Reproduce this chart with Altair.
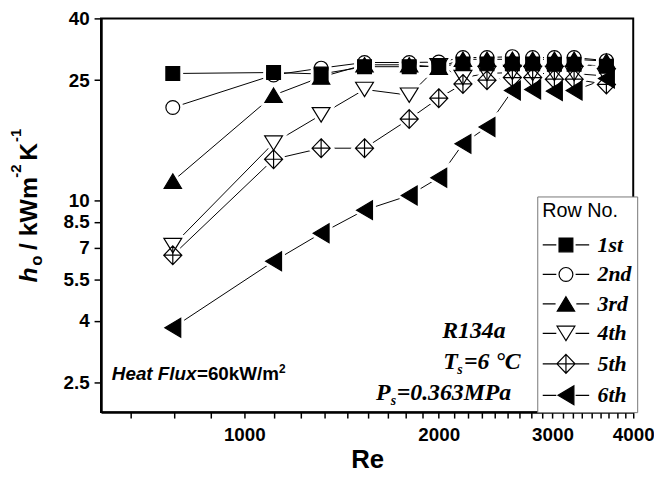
import altair as alt
import pandas as pd

# ---------------- data ----------------
re_vals = [775, 1110, 1315, 1535, 1800, 2000, 2180, 2375, 2600, 2795, 3020, 3240, 3635]
row_names = ["1st", "2nd", "3rd", "4th", "5th", "6th"]
h_1st = [26.3, 26.5, 26.2, 27.7, 27.7, 27.8, 28.3, 28.3, 28.3, 28.3, 28.2, 28.2, 27.8]
h_2nd = [20.3, 26.0, 27.4, 28.6, 28.6, 28.7, 29.7, 29.7, 29.9, 29.7, 29.7, 29.7, 29.0]
h_3rd = [11.6, 22.3, 25.6, 28.1, 28.1, 27.6, 29.3, 29.3, 29.3, 29.3, 29.3, 29.3, 28.9]
h_4th = [7.1, 15.5, 19.2, 23.3, 22.3, 27.9, 25.5, 26.3, 26.5, 26.3, 26.3, 26.3, 25.8]
h_5th = [6.6, 13.7, 14.9, 14.9, 18.6, 21.8, 24.3, 25.0, 25.5, 25.5, 25.2, 25.2, 24.2]
h_6th = [3.8, 6.3, 7.8, 9.3, 10.4, 11.9, 15.4, 17.5, 23.1, 23.3, 23.0, 23.1, 25.3]
series = [h_1st, h_2nd, h_3rd, h_4th, h_5th, h_6th]

y_ticks = [2.5, 4, 5.5, 7, 8.5, 10, 25, 40]
x_major = [1000, 2000, 3000, 4000]
x_ticks = [round(1000 + k * 1000 / 9, 4) for k in range(-3, 28)]

rows = []
for name, vals in zip(row_names, series):
    for r, h in zip(re_vals, vals):
        rows.append({"Re": r, "h": h, "row": name})
df = pd.DataFrame(rows)

# ---------------- marker shapes ----------------
marker_paths = [
    "M-0.93,-0.93H0.93V0.93H-0.93Z",
    "M0.93,0A0.93,0.93,0,1,1,-0.93,0A0.93,0.93,0,1,1,0.93,0Z",
    "M0,-0.97L1.17,0.97L-1.17,0.97Z",
    "M0,0.97L1.2,-0.97L-1.2,-0.97Z",
    "M0,-1.27L1.22,0L0,1.27L-1.22,0ZM0,-1.27V1.27M-1.22,0H1.22",
    "M-1.07,0L1.07,-1.27L1.07,1.27Z",
]
marker_filled = [True, False, True, False, False, True]
legend_paths = [
    "M-3.13,0H-1.3M1.3,0H3.13M-0.93,-0.93H0.93V0.93H-0.93Z",
    "M-3.13,0H-1.3M1.3,0H3.13M0.93,0A0.93,0.93,0,1,1,-0.93,0A0.93,0.93,0,1,1,0.93,0Z",
    "M-3.13,0H-1.4M1.4,0H3.13M0,-0.97L1.17,0.97L-1.17,0.97Z",
    "M-3.13,0H-1.3M1.3,0H3.13M0,0.97L1.2,-0.97L-1.2,-0.97Z",
    "M-3.13,0H3.13M0,-1.27V1.27M0,-1.27L1.22,0L0,1.27L-1.22,0Z",
    "M-3.13,0H-1.3M1.3,0H3.13M-1.07,0L1.07,-1.27L1.07,1.27Z",
]
legend_fills = ["black", "white", "black", "white", "white", "black"]
legend_strokes = ["black"] * 6
MSIZE = 225

# ---------------- scales / axes ----------------
x_scale = alt.Scale(type="log", domain=[600, 4000], nice=False)
y_scale = alt.Scale(type="log", domain=[2, 40], nice=False)

major_str = ",".join(str(v) for v in x_major)
x_axis = alt.Axis(
    values=x_ticks,
    labelExpr=f"indexof([{major_str}], datum.value) >= 0 ? format(datum.value, 'd') : ''",
    title="Re", titleFont="Liberation Sans", titleFontSize=26, titleFontWeight="bold",
    titleColor="black", titlePadding=2,
    labelFont="Liberation Sans", labelFontSize=19, labelFontWeight="bold", labelColor="black",
    labelPadding=8, labelFlush=False, labelOverlap=False,
    tickSize=6, tickWidth=1.5, tickColor="black",
    domainColor="black", domainWidth=2.5, grid=False,
)
y_axis = alt.Axis(
    values=y_ticks, format="~g", title=None,
    labelFont="Liberation Sans", labelFontSize=19, labelFontWeight="bold", labelColor="black",
    labelPadding=5, labelFlush=False, labelOverlap=False,
    tickSize=7, tickWidth=1.5, tickColor="black",
    domainColor="black", domainWidth=2.5, grid=False,
)
x_enc = alt.X("Re:Q", scale=x_scale, axis=x_axis)
y_enc = alt.Y("h:Q", scale=y_scale, axis=y_axis)

layers = []
layers.append(
    alt.Chart(df).mark_line(color="black", strokeWidth=1).encode(
        x=x_enc, y=y_enc, detail="row:N"
    )
)
# white halos make the gap between lines and symbols
for name, path in zip(row_names, marker_paths):
    layers.append(
        alt.Chart(df).transform_filter(alt.datum.row == name).mark_point(
            shape=path, size=MSIZE, filled=True, fill="white", stroke="white",
            strokeWidth=7, opacity=1
        ).encode(x=x_enc, y=y_enc)
    )
for name, path, filled in zip(row_names, marker_paths, marker_filled):
    if filled:
        mk = alt.Chart(df).transform_filter(alt.datum.row == name).mark_point(
            shape=path, size=MSIZE, filled=True, fill="black", stroke="black",
            strokeWidth=1.2, opacity=1)
    else:
        mk = alt.Chart(df).transform_filter(alt.datum.row == name).mark_point(
            shape=path, size=MSIZE, filled=False, stroke="black",
            strokeWidth=1.2, opacity=1)
    layers.append(mk.encode(x=x_enc, y=y_enc))

# legend (drawn from the shape/fill/stroke scales)
leg = alt.Legend(
    title="Row No.", orient="none", legendX=441, legendY=180, direction="vertical",
    titleFont="Liberation Sans", titleFontSize=20, titleFontWeight="normal",
    titleColor="black", titlePadding=13,
    labelFont="Liberation Serif", labelFontSize=22, labelFontStyle="italic",
    labelFontWeight="bold", labelColor="black",
    symbolOffset=13, labelOffset=21, symbolSize=MSIZE,
    symbolStrokeColor="black", symbolStrokeWidth=1.2,
    strokeColor="#777777", fillColor="white", padding=5, rowPadding=7.8,
)
legend_df = pd.DataFrame({"row": row_names})
layers.append(
    alt.Chart(legend_df).transform_filter("false").mark_point(
        size=MSIZE, strokeWidth=1.2, opacity=1
    ).encode(
        shape=alt.Shape("row:N", scale=alt.Scale(domain=row_names, range=legend_paths), legend=leg),
        fill=alt.Fill("row:N", scale=alt.Scale(domain=row_names, range=legend_fills), legend=leg),
        stroke=alt.Stroke("row:N", scale=alt.Scale(domain=row_names, range=legend_strokes), legend=leg),
    )
)


def txt(s, x, y, size, font="Liberation Sans", weight="bold", style="normal", angle=0):
    return alt.Chart(alt.Data(values=[{"a": 1}])).mark_text(
        text=s, font=font, fontSize=size, fontWeight=weight, fontStyle=style,
        angle=angle, align="left", baseline="alphabetic", color="black"
    ).encode(x=alt.value(x), y=alt.value(y))


# y-axis title  h_o / kWm^-2 K^-1
layers += [
    txt("h", -65, 267, 25, style="italic", angle=270),
    txt("o", -60, 250, 17, angle=270),
    txt("/ kWm", -65, 234, 25, angle=270),
    txt("-2", -81, 161, 15, angle=270),
    txt("K", -65, 144, 25, angle=270),
    txt("-1", -81, 125, 15, angle=270),
]
# annotations
serif = "Liberation Serif"
layers += [
    txt("Heat Flux", 11, 366, 19, style="italic"),
    txt("=60kW/m", 97, 366, 19),
    txt("2", 180, 358, 12),
    txt("R134a", 345, 323, 24, font=serif, style="italic"),
    txt("T", 346, 354, 24, font=serif, style="italic"),
    txt("s", 360, 359, 14, font=serif, style="italic"),
    txt("=6 °C", 367, 354, 24, font=serif, style="italic"),
    txt("P", 278, 386, 24, font=serif, style="italic"),
    txt("s", 293, 391, 14, font=serif, style="italic"),
    txt("=0.363MPa", 299, 386, 24, font=serif, style="italic"),
]

chart = alt.layer(*layers).properties(
    width=538, height=398,
    padding={"left": 94, "top": 8, "right": 21, "bottom": 58},
    autosize=alt.AutoSizeParams(type="none"),
).configure_view(stroke="black", strokeWidth=2)

chart.save("out.html", embed_options={"renderer": "svg", "actions": False})
